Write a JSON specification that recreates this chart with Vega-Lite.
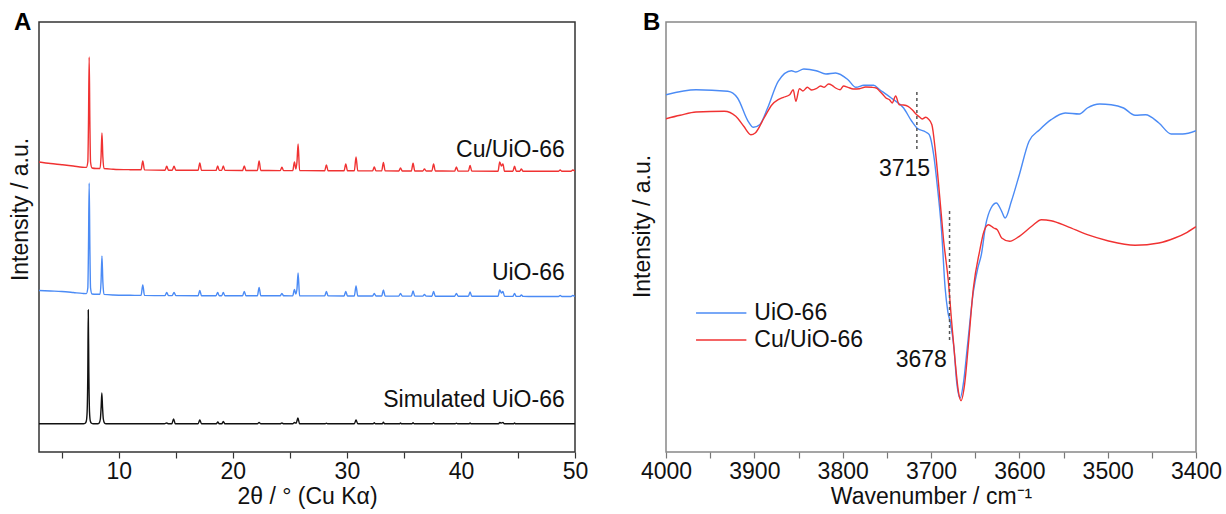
{
  "$schema": "https://vega.github.io/schema/vega-lite/v6.json",
  "padding": {"left": 8, "top": 10, "right": 2, "bottom": 0},
  "spacing": 91,
  "bounds": "flush",
  "background": "white",
  "config": {
    "font": "Liberation Sans",
    "axis": {"labelFont": "Liberation Sans", "titleFont": "Liberation Sans", "labelFontSize": 23, "titleFontSize": 23, "titleFontWeight": "normal", "labelColor": "#111", "titleColor": "#111", "grid": false, "domain": false, "tickSize": 6, "tickWidth": 1.2, "labelFlush": false, "labelOverlap": false, "labelPadding": 2, "titlePadding": 2},
    "view": {"stroke": "#333", "strokeWidth": 1.5},
    "title": {"font": "Liberation Sans", "fontSize": 24, "fontWeight": "bold", "color": "#000", "anchor": "start", "frame": "group", "baseline": "alphabetic", "offset": 0}
  },
  "resolve": {"scale": {"color": "independent", "x": "independent", "y": "independent"}, "legend": {"color": "independent"}},
  "datasets": {
    "xrd": [
      {"t":3.0,"i":290,"s":"Cu/UiO-66"},{"t":4.0,"i":288.5,"s":"Cu/UiO-66"},{"t":5.0,"i":287.3,"s":"Cu/UiO-66"},{"t":6.0,"i":286,"s":"Cu/UiO-66"},{"t":6.8,"i":284.8,"s":"Cu/UiO-66"},{"t":7.15,"i":284.6,"s":"Cu/UiO-66"},{"t":7.28,"i":290,"s":"Cu/UiO-66"},{"t":7.34,"i":330,"s":"Cu/UiO-66"},{"t":7.4,"i":395,"s":"Cu/UiO-66"},{"t":7.46,"i":330,"s":"Cu/UiO-66"},{"t":7.52,"i":290,"s":"Cu/UiO-66"},{"t":7.65,"i":284,"s":"Cu/UiO-66"},{"t":8.0,"i":283.5,"s":"Cu/UiO-66"},{"t":8.35,"i":283.5,"s":"Cu/UiO-66"},{"t":8.44,"i":295,"s":"Cu/UiO-66"},{"t":8.52,"i":319,"s":"Cu/UiO-66"},{"t":8.6,"i":295,"s":"Cu/UiO-66"},{"t":8.7,"i":283.5,"s":"Cu/UiO-66"},{"t":9.5,"i":282.8,"s":"Cu/UiO-66"},{"t":11.0,"i":282.3,"s":"Cu/UiO-66"},{"t":11.95,"i":282.2,"s":"Cu/UiO-66"},{"t":12.1,"i":291,"s":"Cu/UiO-66"},{"t":12.25,"i":282.1,"s":"Cu/UiO-66"},{"t":14.05,"i":281.8,"s":"Cu/UiO-66"},{"t":14.2,"i":285.7,"s":"Cu/UiO-66"},{"t":14.35,"i":281.8,"s":"Cu/UiO-66"},{"t":14.68,"i":281.8,"s":"Cu/UiO-66"},{"t":14.84,"i":285.7,"s":"Cu/UiO-66"},{"t":15.0,"i":281.8,"s":"Cu/UiO-66"},{"t":16.95,"i":281.7,"s":"Cu/UiO-66"},{"t":17.1,"i":289,"s":"Cu/UiO-66"},{"t":17.25,"i":281.7,"s":"Cu/UiO-66"},{"t":18.52,"i":281.6,"s":"Cu/UiO-66"},{"t":18.67,"i":286,"s":"Cu/UiO-66"},{"t":18.8,"i":281.6,"s":"Cu/UiO-66"},{"t":19.02,"i":281.6,"s":"Cu/UiO-66"},{"t":19.16,"i":286,"s":"Cu/UiO-66"},{"t":19.3,"i":281.6,"s":"Cu/UiO-66"},{"t":20.85,"i":281.5,"s":"Cu/UiO-66"},{"t":21.0,"i":286,"s":"Cu/UiO-66"},{"t":21.15,"i":281.5,"s":"Cu/UiO-66"},{"t":22.15,"i":281.5,"s":"Cu/UiO-66"},{"t":22.3,"i":291,"s":"Cu/UiO-66"},{"t":22.45,"i":281.5,"s":"Cu/UiO-66"},{"t":24.15,"i":281.4,"s":"Cu/UiO-66"},{"t":24.3,"i":284.7,"s":"Cu/UiO-66"},{"t":24.45,"i":281.4,"s":"Cu/UiO-66"},{"t":25.25,"i":281.4,"s":"Cu/UiO-66"},{"t":25.4,"i":290,"s":"Cu/UiO-66"},{"t":25.52,"i":283,"s":"Cu/UiO-66"},{"t":25.62,"i":290,"s":"Cu/UiO-66"},{"t":25.72,"i":308,"s":"Cu/UiO-66"},{"t":25.85,"i":281.4,"s":"Cu/UiO-66"},{"t":28.05,"i":281.3,"s":"Cu/UiO-66"},{"t":28.2,"i":287,"s":"Cu/UiO-66"},{"t":28.35,"i":281.3,"s":"Cu/UiO-66"},{"t":29.75,"i":281.2,"s":"Cu/UiO-66"},{"t":29.9,"i":288,"s":"Cu/UiO-66"},{"t":30.05,"i":281.2,"s":"Cu/UiO-66"},{"t":30.65,"i":281.2,"s":"Cu/UiO-66"},{"t":30.8,"i":295,"s":"Cu/UiO-66"},{"t":30.95,"i":281.2,"s":"Cu/UiO-66"},{"t":32.25,"i":281.1,"s":"Cu/UiO-66"},{"t":32.4,"i":285,"s":"Cu/UiO-66"},{"t":32.55,"i":281.1,"s":"Cu/UiO-66"},{"t":33.05,"i":281.1,"s":"Cu/UiO-66"},{"t":33.2,"i":289.5,"s":"Cu/UiO-66"},{"t":33.35,"i":281.1,"s":"Cu/UiO-66"},{"t":34.55,"i":281,"s":"Cu/UiO-66"},{"t":34.7,"i":284,"s":"Cu/UiO-66"},{"t":34.85,"i":281,"s":"Cu/UiO-66"},{"t":35.65,"i":281,"s":"Cu/UiO-66"},{"t":35.8,"i":288.7,"s":"Cu/UiO-66"},{"t":35.95,"i":281,"s":"Cu/UiO-66"},{"t":36.65,"i":281,"s":"Cu/UiO-66"},{"t":36.8,"i":283,"s":"Cu/UiO-66"},{"t":36.95,"i":281,"s":"Cu/UiO-66"},{"t":37.45,"i":281,"s":"Cu/UiO-66"},{"t":37.6,"i":288,"s":"Cu/UiO-66"},{"t":37.75,"i":281,"s":"Cu/UiO-66"},{"t":39.45,"i":280.9,"s":"Cu/UiO-66"},{"t":39.6,"i":285,"s":"Cu/UiO-66"},{"t":39.75,"i":280.9,"s":"Cu/UiO-66"},{"t":40.65,"i":280.9,"s":"Cu/UiO-66"},{"t":40.8,"i":286.5,"s":"Cu/UiO-66"},{"t":40.95,"i":280.9,"s":"Cu/UiO-66"},{"t":43.25,"i":280.8,"s":"Cu/UiO-66"},{"t":43.4,"i":290,"s":"Cu/UiO-66"},{"t":43.55,"i":286,"s":"Cu/UiO-66"},{"t":43.68,"i":288,"s":"Cu/UiO-66"},{"t":43.82,"i":280.8,"s":"Cu/UiO-66"},{"t":44.55,"i":280.8,"s":"Cu/UiO-66"},{"t":44.7,"i":285.7,"s":"Cu/UiO-66"},{"t":44.85,"i":280.8,"s":"Cu/UiO-66"},{"t":45.15,"i":280.8,"s":"Cu/UiO-66"},{"t":45.3,"i":283,"s":"Cu/UiO-66"},{"t":45.45,"i":280.7,"s":"Cu/UiO-66"},{"t":48.55,"i":280.7,"s":"Cu/UiO-66"},{"t":48.7,"i":282,"s":"Cu/UiO-66"},{"t":48.85,"i":280.7,"s":"Cu/UiO-66"},{"t":49.65,"i":280.7,"s":"Cu/UiO-66"},{"t":49.8,"i":282,"s":"Cu/UiO-66"},{"t":50.0,"i":280.7,"s":"Cu/UiO-66"},
      {"t":3.0,"i":161.5,"s":"UiO-66"},{"t":4.0,"i":161,"s":"UiO-66"},{"t":5.0,"i":160.5,"s":"UiO-66"},{"t":6.0,"i":159.5,"s":"UiO-66"},{"t":6.8,"i":158.6,"s":"UiO-66"},{"t":7.15,"i":158.4,"s":"UiO-66"},{"t":7.28,"i":164,"s":"UiO-66"},{"t":7.34,"i":205,"s":"UiO-66"},{"t":7.4,"i":269,"s":"UiO-66"},{"t":7.46,"i":205,"s":"UiO-66"},{"t":7.52,"i":164,"s":"UiO-66"},{"t":7.65,"i":158,"s":"UiO-66"},{"t":8.0,"i":157.8,"s":"UiO-66"},{"t":8.35,"i":157.8,"s":"UiO-66"},{"t":8.44,"i":170,"s":"UiO-66"},{"t":8.52,"i":196,"s":"UiO-66"},{"t":8.6,"i":170,"s":"UiO-66"},{"t":8.7,"i":157.6,"s":"UiO-66"},{"t":9.5,"i":157,"s":"UiO-66"},{"t":11.0,"i":156.7,"s":"UiO-66"},{"t":11.95,"i":156.6,"s":"UiO-66"},{"t":12.1,"i":167,"s":"UiO-66"},{"t":12.25,"i":156.6,"s":"UiO-66"},{"t":14.05,"i":156.4,"s":"UiO-66"},{"t":14.2,"i":159.5,"s":"UiO-66"},{"t":14.35,"i":156.4,"s":"UiO-66"},{"t":14.68,"i":156.4,"s":"UiO-66"},{"t":14.84,"i":159.5,"s":"UiO-66"},{"t":15.0,"i":156.4,"s":"UiO-66"},{"t":16.95,"i":156.3,"s":"UiO-66"},{"t":17.1,"i":161.5,"s":"UiO-66"},{"t":17.25,"i":156.3,"s":"UiO-66"},{"t":18.52,"i":156.3,"s":"UiO-66"},{"t":18.67,"i":159.5,"s":"UiO-66"},{"t":18.8,"i":156.3,"s":"UiO-66"},{"t":19.02,"i":156.3,"s":"UiO-66"},{"t":19.16,"i":159.5,"s":"UiO-66"},{"t":19.3,"i":156.3,"s":"UiO-66"},{"t":20.85,"i":156.2,"s":"UiO-66"},{"t":21.0,"i":160.5,"s":"UiO-66"},{"t":21.15,"i":156.2,"s":"UiO-66"},{"t":22.15,"i":156.2,"s":"UiO-66"},{"t":22.3,"i":164.5,"s":"UiO-66"},{"t":22.45,"i":156.2,"s":"UiO-66"},{"t":24.15,"i":156.2,"s":"UiO-66"},{"t":24.3,"i":158.5,"s":"UiO-66"},{"t":24.45,"i":156.2,"s":"UiO-66"},{"t":25.25,"i":156.1,"s":"UiO-66"},{"t":25.4,"i":162.5,"s":"UiO-66"},{"t":25.52,"i":158,"s":"UiO-66"},{"t":25.62,"i":163,"s":"UiO-66"},{"t":25.72,"i":179,"s":"UiO-66"},{"t":25.85,"i":156.1,"s":"UiO-66"},{"t":28.05,"i":156.1,"s":"UiO-66"},{"t":28.2,"i":160.5,"s":"UiO-66"},{"t":28.35,"i":156.1,"s":"UiO-66"},{"t":29.75,"i":156,"s":"UiO-66"},{"t":29.9,"i":160.5,"s":"UiO-66"},{"t":30.05,"i":156,"s":"UiO-66"},{"t":30.65,"i":156,"s":"UiO-66"},{"t":30.8,"i":166,"s":"UiO-66"},{"t":30.95,"i":156,"s":"UiO-66"},{"t":32.25,"i":156,"s":"UiO-66"},{"t":32.4,"i":158.5,"s":"UiO-66"},{"t":32.55,"i":156,"s":"UiO-66"},{"t":33.05,"i":156,"s":"UiO-66"},{"t":33.2,"i":162,"s":"UiO-66"},{"t":33.35,"i":156,"s":"UiO-66"},{"t":34.55,"i":155.9,"s":"UiO-66"},{"t":34.7,"i":158.5,"s":"UiO-66"},{"t":34.85,"i":155.9,"s":"UiO-66"},{"t":35.65,"i":155.9,"s":"UiO-66"},{"t":35.8,"i":161,"s":"UiO-66"},{"t":35.95,"i":155.9,"s":"UiO-66"},{"t":36.65,"i":155.9,"s":"UiO-66"},{"t":36.8,"i":157.5,"s":"UiO-66"},{"t":36.95,"i":155.9,"s":"UiO-66"},{"t":37.45,"i":155.8,"s":"UiO-66"},{"t":37.6,"i":160.5,"s":"UiO-66"},{"t":37.75,"i":155.8,"s":"UiO-66"},{"t":39.45,"i":155.8,"s":"UiO-66"},{"t":39.6,"i":158.5,"s":"UiO-66"},{"t":39.75,"i":155.8,"s":"UiO-66"},{"t":40.65,"i":155.7,"s":"UiO-66"},{"t":40.8,"i":160,"s":"UiO-66"},{"t":40.95,"i":155.7,"s":"UiO-66"},{"t":43.25,"i":155.7,"s":"UiO-66"},{"t":43.4,"i":162,"s":"UiO-66"},{"t":43.55,"i":159,"s":"UiO-66"},{"t":43.68,"i":160.5,"s":"UiO-66"},{"t":43.82,"i":155.7,"s":"UiO-66"},{"t":44.55,"i":155.6,"s":"UiO-66"},{"t":44.7,"i":158.5,"s":"UiO-66"},{"t":44.85,"i":155.6,"s":"UiO-66"},{"t":45.15,"i":155.6,"s":"UiO-66"},{"t":45.3,"i":157,"s":"UiO-66"},{"t":45.45,"i":155.6,"s":"UiO-66"},{"t":48.55,"i":155.5,"s":"UiO-66"},{"t":48.7,"i":156.5,"s":"UiO-66"},{"t":48.85,"i":155.5,"s":"UiO-66"},{"t":49.65,"i":155.5,"s":"UiO-66"},{"t":49.8,"i":156.5,"s":"UiO-66"},{"t":50.0,"i":155.5,"s":"UiO-66"},
      {"t":3.0,"i":28.2,"s":"Simulated UiO-66"},{"t":6.9,"i":28.2,"s":"Simulated UiO-66"},{"t":7.05,"i":28.8,"s":"Simulated UiO-66"},{"t":7.15,"i":31,"s":"Simulated UiO-66"},{"t":7.22,"i":40,"s":"Simulated UiO-66"},{"t":7.28,"i":80,"s":"Simulated UiO-66"},{"t":7.32,"i":142,"s":"Simulated UiO-66"},{"t":7.37,"i":80,"s":"Simulated UiO-66"},{"t":7.43,"i":40,"s":"Simulated UiO-66"},{"t":7.5,"i":31,"s":"Simulated UiO-66"},{"t":7.6,"i":28.8,"s":"Simulated UiO-66"},{"t":7.75,"i":28.2,"s":"Simulated UiO-66"},{"t":8.15,"i":28.2,"s":"Simulated UiO-66"},{"t":8.28,"i":29,"s":"Simulated UiO-66"},{"t":8.38,"i":33,"s":"Simulated UiO-66"},{"t":8.45,"i":45,"s":"Simulated UiO-66"},{"t":8.51,"i":59,"s":"Simulated UiO-66"},{"t":8.57,"i":45,"s":"Simulated UiO-66"},{"t":8.64,"i":33,"s":"Simulated UiO-66"},{"t":8.74,"i":29,"s":"Simulated UiO-66"},{"t":8.88,"i":28.2,"s":"Simulated UiO-66"},{"t":14.0,"i":28.2,"s":"Simulated UiO-66"},{"t":14.2,"i":29,"s":"Simulated UiO-66"},{"t":14.35,"i":28.2,"s":"Simulated UiO-66"},{"t":14.65,"i":28.2,"s":"Simulated UiO-66"},{"t":14.8,"i":33,"s":"Simulated UiO-66"},{"t":14.95,"i":28.2,"s":"Simulated UiO-66"},{"t":16.95,"i":28.2,"s":"Simulated UiO-66"},{"t":17.1,"i":32,"s":"Simulated UiO-66"},{"t":17.25,"i":28.2,"s":"Simulated UiO-66"},{"t":18.55,"i":28.2,"s":"Simulated UiO-66"},{"t":18.68,"i":30,"s":"Simulated UiO-66"},{"t":18.8,"i":28.2,"s":"Simulated UiO-66"},{"t":19.03,"i":28.2,"s":"Simulated UiO-66"},{"t":19.16,"i":30.5,"s":"Simulated UiO-66"},{"t":19.3,"i":28.2,"s":"Simulated UiO-66"},{"t":22.15,"i":28.2,"s":"Simulated UiO-66"},{"t":22.3,"i":29.5,"s":"Simulated UiO-66"},{"t":22.45,"i":28.2,"s":"Simulated UiO-66"},{"t":24.15,"i":28.2,"s":"Simulated UiO-66"},{"t":24.3,"i":29,"s":"Simulated UiO-66"},{"t":24.45,"i":28.2,"s":"Simulated UiO-66"},{"t":25.25,"i":28.2,"s":"Simulated UiO-66"},{"t":25.4,"i":29.5,"s":"Simulated UiO-66"},{"t":25.55,"i":28.8,"s":"Simulated UiO-66"},{"t":25.7,"i":34,"s":"Simulated UiO-66"},{"t":25.85,"i":28.2,"s":"Simulated UiO-66"},{"t":28.1,"i":28.2,"s":"Simulated UiO-66"},{"t":28.2,"i":28.8,"s":"Simulated UiO-66"},{"t":28.3,"i":28.2,"s":"Simulated UiO-66"},{"t":30.65,"i":28.2,"s":"Simulated UiO-66"},{"t":30.8,"i":32,"s":"Simulated UiO-66"},{"t":30.95,"i":28.2,"s":"Simulated UiO-66"},{"t":32.3,"i":28.2,"s":"Simulated UiO-66"},{"t":32.4,"i":29.2,"s":"Simulated UiO-66"},{"t":32.5,"i":28.2,"s":"Simulated UiO-66"},{"t":33.1,"i":28.2,"s":"Simulated UiO-66"},{"t":33.2,"i":29.8,"s":"Simulated UiO-66"},{"t":33.3,"i":28.2,"s":"Simulated UiO-66"},{"t":34.6,"i":28.2,"s":"Simulated UiO-66"},{"t":34.7,"i":29,"s":"Simulated UiO-66"},{"t":34.8,"i":28.2,"s":"Simulated UiO-66"},{"t":35.7,"i":28.2,"s":"Simulated UiO-66"},{"t":35.8,"i":29.2,"s":"Simulated UiO-66"},{"t":35.9,"i":28.2,"s":"Simulated UiO-66"},{"t":37.5,"i":28.2,"s":"Simulated UiO-66"},{"t":37.6,"i":29.2,"s":"Simulated UiO-66"},{"t":37.7,"i":28.2,"s":"Simulated UiO-66"},{"t":39.5,"i":28.2,"s":"Simulated UiO-66"},{"t":39.6,"i":28.8,"s":"Simulated UiO-66"},{"t":39.7,"i":28.2,"s":"Simulated UiO-66"},{"t":40.7,"i":28.2,"s":"Simulated UiO-66"},{"t":40.8,"i":29,"s":"Simulated UiO-66"},{"t":40.9,"i":28.2,"s":"Simulated UiO-66"},{"t":43.3,"i":28.2,"s":"Simulated UiO-66"},{"t":43.4,"i":29.5,"s":"Simulated UiO-66"},{"t":43.55,"i":29,"s":"Simulated UiO-66"},{"t":43.68,"i":29.5,"s":"Simulated UiO-66"},{"t":43.8,"i":28.2,"s":"Simulated UiO-66"},{"t":44.6,"i":28.2,"s":"Simulated UiO-66"},{"t":44.7,"i":29,"s":"Simulated UiO-66"},{"t":44.8,"i":28.2,"s":"Simulated UiO-66"},{"t":50.0,"i":28.2,"s":"Simulated UiO-66"}
    ],
    "xrdLabels": [
      {"t":49.1,"i":302,"label":"Cu/UiO-66"},
      {"t":49.1,"i":179,"label":"UiO-66"},
      {"t":49.1,"i":52,"label":"Simulated UiO-66"}
    ],
    "ir": [
      {"w":4000,"a":357.3,"s":"UiO-66"},{"w":3966,"a":362.3,"s":"UiO-66"},{"w":3930,"a":360.7,"s":"UiO-66"},{"w":3919,"a":354,"s":"UiO-66"},{"w":3907,"a":330.7,"s":"UiO-66"},{"w":3901,"a":324.7,"s":"UiO-66"},{"w":3894,"a":327.3,"s":"UiO-66"},{"w":3885,"a":344,"s":"UiO-66"},{"w":3873,"a":370.7,"s":"UiO-66"},{"w":3858,"a":381.3,"s":"UiO-66"},{"w":3853,"a":380,"s":"UiO-66"},{"w":3844,"a":383,"s":"UiO-66"},{"w":3830,"a":381.3,"s":"UiO-66"},{"w":3819,"a":378,"s":"UiO-66"},{"w":3808,"a":379,"s":"UiO-66"},{"w":3794,"a":372.3,"s":"UiO-66"},{"w":3785,"a":364.7,"s":"UiO-66"},{"w":3776,"a":366.7,"s":"UiO-66"},{"w":3765,"a":366.7,"s":"UiO-66"},{"w":3758,"a":362.3,"s":"UiO-66"},{"w":3745,"a":354,"s":"UiO-66"},{"w":3731,"a":344,"s":"UiO-66"},{"w":3722,"a":331,"s":"UiO-66"},{"w":3716,"a":324,"s":"UiO-66"},{"w":3706,"a":320,"s":"UiO-66"},{"w":3702,"a":317.3,"s":"UiO-66"},{"w":3697,"a":297.3,"s":"UiO-66"},{"w":3693,"a":267.3,"s":"UiO-66"},{"w":3688,"a":220.7,"s":"UiO-66"},{"w":3684,"a":164,"s":"UiO-66"},{"w":3681,"a":140.7,"s":"UiO-66"},{"w":3678,"a":129,"s":"UiO-66"},{"w":3674,"a":104,"s":"UiO-66"},{"w":3671,"a":70.7,"s":"UiO-66"},{"w":3667,"a":54,"s":"UiO-66"},{"w":3663,"a":70.7,"s":"UiO-66"},{"w":3659,"a":104,"s":"UiO-66"},{"w":3652,"a":160.7,"s":"UiO-66"},{"w":3647,"a":184,"s":"UiO-66"},{"w":3643,"a":197.3,"s":"UiO-66"},{"w":3638,"a":227.3,"s":"UiO-66"},{"w":3632,"a":244,"s":"UiO-66"},{"w":3626,"a":249,"s":"UiO-66"},{"w":3620,"a":240.7,"s":"UiO-66"},{"w":3616,"a":234,"s":"UiO-66"},{"w":3609,"a":250.7,"s":"UiO-66"},{"w":3600,"a":277.3,"s":"UiO-66"},{"w":3589,"a":310.7,"s":"UiO-66"},{"w":3577,"a":322.3,"s":"UiO-66"},{"w":3564,"a":332.3,"s":"UiO-66"},{"w":3548,"a":339,"s":"UiO-66"},{"w":3532,"a":338,"s":"UiO-66"},{"w":3523,"a":344,"s":"UiO-66"},{"w":3509,"a":348,"s":"UiO-66"},{"w":3496,"a":347.3,"s":"UiO-66"},{"w":3482,"a":344,"s":"UiO-66"},{"w":3469,"a":336.7,"s":"UiO-66"},{"w":3457,"a":337.3,"s":"UiO-66"},{"w":3442,"a":329,"s":"UiO-66"},{"w":3428,"a":318,"s":"UiO-66"},{"w":3415,"a":318,"s":"UiO-66"},{"w":3400,"a":321.3,"s":"UiO-66"},
      {"w":4000,"a":333.3,"s":"Cu/UiO-66"},{"w":3984,"a":336.7,"s":"Cu/UiO-66"},{"w":3966,"a":340,"s":"Cu/UiO-66"},{"w":3934,"a":340.7,"s":"Cu/UiO-66"},{"w":3921,"a":335.7,"s":"Cu/UiO-66"},{"w":3912,"a":325.7,"s":"Cu/UiO-66"},{"w":3904,"a":317.3,"s":"Cu/UiO-66"},{"w":3899,"a":319,"s":"Cu/UiO-66"},{"w":3889,"a":334,"s":"Cu/UiO-66"},{"w":3880,"a":347.3,"s":"Cu/UiO-66"},{"w":3873,"a":352.3,"s":"Cu/UiO-66"},{"w":3867,"a":354.7,"s":"Cu/UiO-66"},{"w":3860,"a":357.3,"s":"Cu/UiO-66"},{"w":3856,"a":362.3,"s":"Cu/UiO-66"},{"w":3853,"a":350.7,"s":"Cu/UiO-66"},{"w":3849,"a":363.3,"s":"Cu/UiO-66"},{"w":3845,"a":361,"s":"Cu/UiO-66"},{"w":3840,"a":364.7,"s":"Cu/UiO-66"},{"w":3835,"a":362,"s":"Cu/UiO-66"},{"w":3830,"a":363.3,"s":"Cu/UiO-66"},{"w":3825,"a":366,"s":"Cu/UiO-66"},{"w":3821,"a":364.7,"s":"Cu/UiO-66"},{"w":3816,"a":368,"s":"Cu/UiO-66"},{"w":3812,"a":366.7,"s":"Cu/UiO-66"},{"w":3808,"a":364,"s":"Cu/UiO-66"},{"w":3803,"a":362.3,"s":"Cu/UiO-66"},{"w":3799,"a":366,"s":"Cu/UiO-66"},{"w":3794,"a":364.7,"s":"Cu/UiO-66"},{"w":3788,"a":363,"s":"Cu/UiO-66"},{"w":3781,"a":363.3,"s":"Cu/UiO-66"},{"w":3774,"a":365,"s":"Cu/UiO-66"},{"w":3767,"a":364.7,"s":"Cu/UiO-66"},{"w":3762,"a":364,"s":"Cu/UiO-66"},{"w":3758,"a":360.7,"s":"Cu/UiO-66"},{"w":3754,"a":357,"s":"Cu/UiO-66"},{"w":3751,"a":354,"s":"Cu/UiO-66"},{"w":3747,"a":352.3,"s":"Cu/UiO-66"},{"w":3744,"a":349,"s":"Cu/UiO-66"},{"w":3740,"a":356,"s":"Cu/UiO-66"},{"w":3736,"a":347.3,"s":"Cu/UiO-66"},{"w":3731,"a":347,"s":"Cu/UiO-66"},{"w":3726,"a":345.7,"s":"Cu/UiO-66"},{"w":3721,"a":342,"s":"Cu/UiO-66"},{"w":3717,"a":338,"s":"Cu/UiO-66"},{"w":3713,"a":335,"s":"Cu/UiO-66"},{"w":3710,"a":333,"s":"Cu/UiO-66"},{"w":3706,"a":334.7,"s":"Cu/UiO-66"},{"w":3703,"a":333,"s":"Cu/UiO-66"},{"w":3699,"a":327.3,"s":"Cu/UiO-66"},{"w":3695,"a":300.7,"s":"Cu/UiO-66"},{"w":3690,"a":254,"s":"Cu/UiO-66"},{"w":3686,"a":214,"s":"Cu/UiO-66"},{"w":3680,"a":167.3,"s":"Cu/UiO-66"},{"w":3677,"a":134,"s":"Cu/UiO-66"},{"w":3673,"a":94,"s":"Cu/UiO-66"},{"w":3669,"a":60.7,"s":"Cu/UiO-66"},{"w":3666,"a":51.3,"s":"Cu/UiO-66"},{"w":3662,"a":67.3,"s":"Cu/UiO-66"},{"w":3658,"a":104,"s":"Cu/UiO-66"},{"w":3652,"a":164,"s":"Cu/UiO-66"},{"w":3645,"a":200.7,"s":"Cu/UiO-66"},{"w":3640,"a":220.7,"s":"Cu/UiO-66"},{"w":3635,"a":227.3,"s":"Cu/UiO-66"},{"w":3629,"a":224,"s":"Cu/UiO-66"},{"w":3625,"a":222.3,"s":"Cu/UiO-66"},{"w":3620,"a":214,"s":"Cu/UiO-66"},{"w":3611,"a":210.7,"s":"Cu/UiO-66"},{"w":3600,"a":215.7,"s":"Cu/UiO-66"},{"w":3586,"a":225.7,"s":"Cu/UiO-66"},{"w":3575,"a":232.3,"s":"Cu/UiO-66"},{"w":3564,"a":231.3,"s":"Cu/UiO-66"},{"w":3546,"a":225.7,"s":"Cu/UiO-66"},{"w":3523,"a":217.3,"s":"Cu/UiO-66"},{"w":3500,"a":211.3,"s":"Cu/UiO-66"},{"w":3469,"a":206.7,"s":"Cu/UiO-66"},{"w":3442,"a":209,"s":"Cu/UiO-66"},{"w":3424,"a":214,"s":"Cu/UiO-66"},{"w":3410,"a":219.7,"s":"Cu/UiO-66"},{"w":3400,"a":225.3,"s":"Cu/UiO-66"}
    ],
    "irMarks": [
      {"w":3716,"a1":303,"a2":361},
      {"w":3679,"a1":112,"a2":242}
    ],
    "irLabels": [
      {"w":3701,"a":283,"label":"3715"},
      {"w":3682,"a":92,"label":"3678"}
    ],
    "irKey": [
      {"s":"UiO-66","w1":3966,"w2":3909,"a":139,"tw":3900},
      {"s":"Cu/UiO-66","w1":3966,"w2":3909,"a":112,"tw":3900}
    ]
  },
  "hconcat": [
    {
      "width": 536,
      "height": 430,
      "view": {"stroke": "#333", "strokeWidth": 1.5},
      "title": {"text": "A", "dx": -25, "dy": 17},
      "layer": [
        {
          "data": {"name": "xrd"},
          "mark": {"type": "line", "strokeWidth": 1.4, "interpolate": "monotone", "clip": true},
          "encoding": {
            "x": {"field": "t", "type": "quantitative", "scale": {"domain": [3, 50], "nice": false, "zero": false},
              "axis": {"title": "2θ / ° (Cu Kα)", "values": [5,10,15,20,25,30,35,40,45,50], "format": "d", "labelExpr": "datum.value % 10 == 0 ? datum.label : ''", "tickColor": "#333"}},
            "y": {"field": "i", "type": "quantitative", "scale": {"domain": [0, 430], "nice": false},
              "axis": {"title": "Intensity / a.u.", "labels": false, "ticks": false, "titleX": -19, "titleY": 187, "titleAlign": "center", "titleBaseline": "middle", "titleAngle": -90}},
            "color": {"field": "s", "type": "nominal", "scale": {"domain": ["Cu/UiO-66", "UiO-66", "Simulated UiO-66"], "range": ["#f03232", "#4b8bf5", "#111111"]}, "legend": null},
            "detail": {"field": "s"}
          }
        },
        {
          "data": {"name": "xrdLabels"},
          "mark": {"type": "text", "align": "right", "baseline": "middle", "fontSize": 23, "font": "Liberation Sans", "color": "#111"},
          "encoding": {
            "x": {"field": "t", "type": "quantitative"},
            "y": {"field": "i", "type": "quantitative"},
            "text": {"field": "label"}
          }
        }
      ]
    },
    {
      "width": 530,
      "height": 430,
      "view": {"stroke": "#888", "strokeWidth": 1.5},
      "title": {"text": "B", "dx": -23, "dy": 17},
      "layer": [
        {
          "data": {"name": "ir"},
          "mark": {"type": "line", "strokeWidth": 1.4, "interpolate": "monotone", "clip": true},
          "encoding": {
            "x": {"field": "w", "type": "quantitative", "scale": {"domain": [3400, 4000], "reverse": true, "nice": false, "zero": false},
              "axis": {"title": "Wavenumber / cm⁻¹", "values": [3400,3450,3500,3550,3600,3650,3700,3750,3800,3850,3900,3950,4000], "format": "d", "labelExpr": "datum.value % 100 == 0 ? datum.label : ''", "tickColor": "#777"}},
            "y": {"field": "a", "type": "quantitative", "scale": {"domain": [0, 430], "nice": false},
              "axis": {"title": "Intensity / a.u.", "labels": false, "ticks": false, "titleX": -24, "titleY": 204, "titleAlign": "center", "titleBaseline": "middle", "titleAngle": -90}},
            "color": {"field": "s", "type": "nominal", "scale": {"domain": ["UiO-66", "Cu/UiO-66"], "range": ["#4b8bf5", "#f03232"]}, "legend": null}
          }
        },
        {
          "data": {"name": "irKey"},
          "mark": {"type": "rule", "strokeWidth": 1.5},
          "encoding": {
            "x": {"field": "w1", "type": "quantitative"},
            "x2": {"field": "w2"},
            "y": {"field": "a", "type": "quantitative"},
            "color": {"field": "s", "type": "nominal", "legend": null}
          }
        },
        {
          "data": {"name": "irKey"},
          "mark": {"type": "text", "align": "left", "baseline": "middle", "fontSize": 23, "font": "Liberation Sans", "color": "#111"},
          "encoding": {
            "x": {"field": "tw", "type": "quantitative"},
            "y": {"field": "a", "type": "quantitative"},
            "text": {"field": "s"}
          }
        },
        {
          "data": {"name": "irMarks"},
          "mark": {"type": "rule", "color": "#555", "strokeDash": [3, 3], "strokeWidth": 1.5},
          "encoding": {
            "x": {"field": "w", "type": "quantitative"},
            "y": {"field": "a1", "type": "quantitative"},
            "y2": {"field": "a2"}
          }
        },
        {
          "data": {"name": "irLabels"},
          "mark": {"type": "text", "align": "right", "baseline": "middle", "fontSize": 23, "font": "Liberation Sans", "color": "#111"},
          "encoding": {
            "x": {"field": "w", "type": "quantitative"},
            "y": {"field": "a", "type": "quantitative"},
            "text": {"field": "label"}
          }
        }
      ]
    }
  ]
}
